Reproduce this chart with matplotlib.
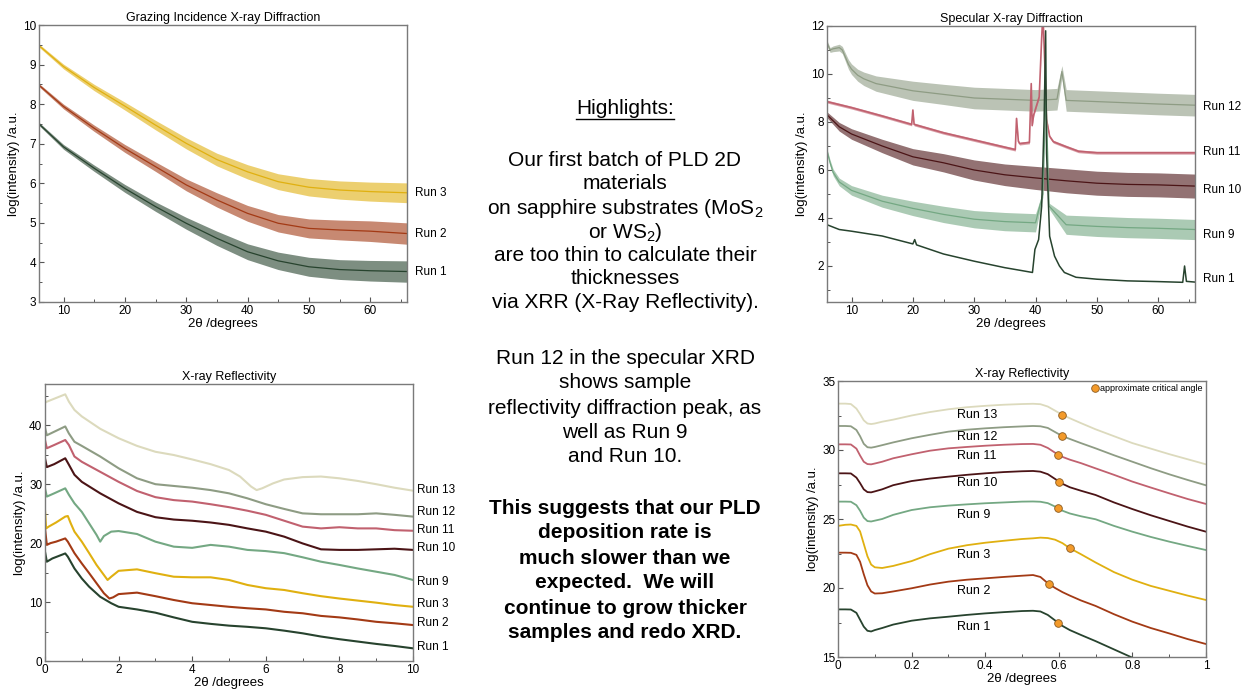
import matplotlib
matplotlib.use('Agg')
import matplotlib.pyplot as plt
from matplotlib.ticker import MultipleLocator, FuncFormatter
from matplotlib.lines import Line2D

plt.rcParams['font.family'] = ['Liberation Sans', 'DejaVu Sans']
plt.rcParams['mathtext.fontset'] = 'custom'
plt.rcParams['mathtext.rm'] = 'Liberation Sans'
plt.rcParams['mathtext.it'] = 'Liberation Sans:italic'

COLORS = {
    'Run 1':  '#27432e',
    'Run 2':  '#a33a15',
    'Run 3':  '#e0b010',
    'Run 9':  '#74a883',
    'Run 10': '#4b1416',
    'Run 11': '#c1616f',
    'Run 12': '#8e9c84',
    'Run 13': '#dcdabd',
}
DOT_COLOR = '#f39a2a'

# ── Grazing incidence XRD (smoothed trace + noise half-width) ────────────────
gi_x = [6, 10, 15, 20, 25, 30, 35, 40, 45, 50, 55, 60, 66]
gi_run3 = [9.48, 8.95, 8.42, 7.95, 7.47, 7.01, 6.60, 6.29, 6.04, 5.90, 5.83, 5.79, 5.76]
gi_run2 = [8.48, 7.94, 7.39, 6.88, 6.42, 5.96, 5.58, 5.24, 4.99, 4.86, 4.82, 4.79, 4.73]
gi_run1 = [7.50, 6.92, 6.38, 5.87, 5.41, 4.99, 4.61, 4.27, 4.04, 3.89, 3.82, 3.79, 3.77]
gi_noise3 = [0.04, 0.06, 0.08, 0.10, 0.12, 0.14, 0.16, 0.18, 0.20, 0.22, 0.23, 0.24, 0.25]
gi_noise2 = [0.04, 0.06, 0.08, 0.10, 0.12, 0.15, 0.18, 0.20, 0.22, 0.24, 0.25, 0.26, 0.27]
gi_noise1 = [0.04, 0.06, 0.08, 0.10, 0.12, 0.15, 0.18, 0.20, 0.22, 0.24, 0.25, 0.26, 0.27]

# ── Specular XRD ─────────────────────────────────────────────────────────────
sp12_x = [6, 6.5, 7, 8, 8.5, 9, 9.5, 10, 11, 12, 14, 17, 20, 25, 30, 35, 40,
          43.5, 44.3, 45, 50, 55, 60, 66]
sp12_y = [11.3, 11.0, 11.05, 11.1, 11.0, 10.7, 10.4, 10.2, 9.95, 9.8, 9.6, 9.45,
          9.3, 9.15, 9.0, 8.95, 8.9, 8.95, 10.1, 8.9, 8.85, 8.8, 8.75, 8.7]
sp12_noise = [0.10, 0.10, 0.12, 0.14, 0.15, 0.17, 0.20, 0.22, 0.25, 0.28, 0.32,
              0.36, 0.40, 0.42, 0.45, 0.45, 0.45, 0.45, 0.25, 0.45, 0.45, 0.45,
              0.45, 0.45]

sp11_x = [6, 10, 15, 19.8, 20.0, 20.2, 25, 30, 35, 36.7, 36.9, 37.2, 37.4, 39.0,
          39.3, 39.45, 39.7, 40.6, 41.0, 41.2, 41.5, 41.8, 42.3, 42.9, 45, 47,
          50, 55, 60, 66]
sp11_y = [8.85, 8.6, 8.25, 7.9, 8.5, 7.9, 7.55, 7.25, 6.95, 6.85, 8.15, 7.2, 7.1,
          7.15, 9.6, 7.85, 8.3, 9.05, 11.5, 12.5, 10.5, 8.1, 7.4, 7.18, 6.97, 6.78,
          6.72, 6.72, 6.72, 6.72]
sp11_noise = [0.06] * 30

sp10_x = [6, 8, 10, 15, 20, 25, 30, 35, 40, 45, 50, 55, 60, 66]
sp10_y = [8.3, 7.8, 7.5, 7.0, 6.55, 6.3, 6.0, 5.8, 5.67, 5.55, 5.45, 5.4, 5.38, 5.33]
sp10_noise = [0.12, 0.18, 0.22, 0.28, 0.34, 0.38, 0.42, 0.45, 0.48, 0.50, 0.50,
              0.50, 0.50, 0.50]

sp9_x = [6, 6.5, 7, 8, 10, 15, 20, 25, 30, 35, 40, 41.2, 41.7, 42.2, 45, 50, 55,
         60, 66]
sp9_y = [6.8, 6.3, 5.9, 5.5, 5.15, 4.7, 4.4, 4.15, 3.95, 3.85, 3.8, 5.0, 9.2, 4.5,
         3.72, 3.65, 3.6, 3.57, 3.52]
sp9_noise = [0.08, 0.12, 0.14, 0.16, 0.20, 0.25, 0.30, 0.34, 0.36, 0.38, 0.38,
             0.12, 0.05, 0.12, 0.40, 0.42, 0.42, 0.42, 0.42]

sp1_x = [6, 8, 10, 15, 20, 20.3, 20.6, 25, 30, 35, 37.5, 39.5, 39.9, 40.5, 41.0,
         41.4, 41.65, 41.8, 42.3, 43.1, 43.9, 44.7, 46.6, 50, 55, 60, 64, 64.3,
         64.6, 66]
sp1_y = [3.72, 3.52, 3.45, 3.25, 2.92, 3.1, 2.88, 2.5, 2.2, 1.93, 1.82, 1.73,
         2.69, 3.1, 4.49, 8.09, 11.8, 6.7, 3.24, 2.41, 2.0, 1.73, 1.53, 1.45,
         1.38, 1.35, 1.32, 2.0, 1.36, 1.33]

# ── X-ray reflectivity, wide range ───────────────────────────────────────────
xr13_x = [0, 0.05, 0.55, 0.65, 0.8, 1, 1.5, 2, 2.5, 3, 3.5, 4, 4.5, 5, 5.3, 5.6,
          5.75, 5.9, 6.2, 6.5, 7, 7.5, 8, 8.5, 9, 9.5, 10]
xr13_y = [43.8, 44.0, 45.25, 44.0, 42.6, 41.5, 39.4, 37.8, 36.5, 35.5, 34.95,
          34.2, 33.4, 32.4, 31.3, 29.6, 29.0, 29.3, 30.15, 30.8, 31.2, 31.3, 31.0,
          30.55, 30.0, 29.4, 28.9]

xr_common_x = [0, 0.05, 0.25, 0.55, 0.65, 0.8, 1, 1.5, 2, 2.5, 3, 3.5, 4, 4.5,
               5, 5.5, 6, 6.5, 7, 7.5, 8, 8.5, 9, 9.5, 10]
xr12_y = [39.6, 38.3, 38.9, 39.8, 38.6, 37.2, 36.5, 34.7, 32.7, 31.0, 30.0, 29.7,
          29.4, 29.0, 28.45, 27.6, 26.6, 25.8, 25.05, 24.9, 24.9, 24.9, 25.05,
          24.8, 24.5]
xr11_y = [37.5, 36.1, 36.65, 37.5, 36.65, 34.7, 33.8, 32.1, 30.4, 28.85, 27.8,
          27.3, 27.05, 26.6, 26.1, 25.5, 24.8, 23.8, 22.8, 22.5, 22.7, 22.5, 22.5,
          22.2, 22.1]
xr10_y = [34.4, 32.9, 33.4, 34.4, 33.3, 31.6, 30.4, 28.45, 26.75, 25.3, 24.4,
          24.0, 23.8, 23.5, 23.1, 22.5, 21.95, 21.1, 19.95, 18.95, 18.85, 18.85,
          18.95, 19.05, 18.85]

xr9_x = [0, 0.05, 0.25, 0.55, 0.65, 0.8, 1, 1.2, 1.4, 1.5, 1.6, 1.8, 2, 2.5, 3,
         3.5, 4, 4.5, 5, 5.5, 6, 6.5, 7, 7.5, 8, 8.5, 9, 9.5, 10]
xr9_y = [29.3, 27.9, 28.45, 29.3, 28.2, 26.75, 25.3, 23.35, 21.4, 20.25, 21.2,
         21.95, 22.05, 21.55, 20.25, 19.4, 19.2, 19.7, 19.4, 18.85, 18.65, 18.3,
         17.6, 16.85, 16.3, 15.7, 15.15, 14.6, 13.75]

xr3_x = [0, 0.03, 0.1, 0.3, 0.55, 0.62, 0.7, 0.8, 1, 1.2, 1.4, 1.6, 1.7, 1.8, 2,
         2.5, 3, 3.5, 4, 4.5, 5, 5.5, 6, 6.5, 7, 7.5, 8, 8.5, 9, 9.5, 10]
xr3_y = [25.6, 22.5, 22.8, 23.5, 24.5, 24.6, 23.35, 21.95, 20.25, 18.3, 16.3,
         14.6, 13.75, 14.3, 15.3, 15.55, 14.9, 14.3, 14.2, 14.2, 13.75, 12.9,
         12.35, 12.05, 11.5, 11.0, 10.6, 10.25, 9.9, 9.5, 9.2]

xr2_x = [0, 0.05, 0.15, 0.3, 0.55, 0.62, 0.8, 1, 1.2, 1.4, 1.6, 1.75, 1.85, 2,
         2.5, 3, 3.5, 4, 4.5, 5, 5.5, 6, 6.5, 7, 7.5, 8, 8.5, 9, 9.5, 10]
xr2_y = [22.5, 19.7, 20.0, 20.25, 20.8, 20.25, 18.3, 16.55, 14.9, 13.2, 11.5,
         10.6, 10.8, 11.35, 11.6, 11.0, 10.35, 9.8, 9.5, 9.2, 8.95, 8.75, 8.35,
         8.1, 7.65, 7.4, 7.05, 6.65, 6.4, 6.1]

xr1_x = [0, 0.05, 0.2, 0.55, 0.62, 0.8, 1, 1.2, 1.5, 1.8, 2, 2.5, 3, 3.5, 4, 4.5,
         5, 5.5, 6, 6.5, 7, 7.5, 8, 8.5, 9, 9.5, 10]
xr1_y = [18.55, 16.85, 17.4, 18.25, 17.7, 15.7, 14.0, 12.6, 10.9, 9.8, 9.2, 8.75,
         8.2, 7.4, 6.65, 6.3, 6.0, 5.8, 5.55, 5.15, 4.7, 4.15, 3.7, 3.3, 2.9,
         2.55, 2.15]

# ── X-ray reflectivity, low angle with critical-angle markers ────────────────
lo_x = [0, 0.02, 0.035, 0.05, 0.06, 0.07, 0.08, 0.09, 0.1, 0.12, 0.15, 0.2, 0.25,
        0.3, 0.35, 0.4, 0.45, 0.5, 0.53, 0.55, 0.57, 0.59, 0.61, 0.63, 0.66, 0.7,
        0.75, 0.8, 0.85, 0.9, 0.95, 1.0]
lo_run13 = [33.36, 33.36, 33.33, 33.0, 32.6, 32.15, 31.92, 31.88, 31.92, 32.05,
            32.2, 32.5, 32.75, 32.95, 33.1, 33.2, 33.28, 33.33, 33.35, 33.32,
            33.15, 32.85, 32.54, 32.3, 31.95, 31.5, 31.0, 30.5, 30.1, 29.7, 29.33,
            28.96]
lo_run12 = [31.74, 31.74, 31.72, 31.45, 31.0, 30.45, 30.2, 30.17, 30.22, 30.35,
            30.55, 30.85, 31.1, 31.33, 31.47, 31.57, 31.65, 31.71, 31.74, 31.72,
            31.6, 31.3, 31.0, 30.8, 30.5, 30.12, 29.62, 29.15, 28.68, 28.24, 27.83,
            27.44]
lo_run11 = [30.41, 30.41, 30.4, 30.1, 29.6, 29.15, 28.98, 28.96, 29.02, 29.15,
            29.4, 29.69, 29.95, 30.12, 30.22, 30.31, 30.38, 30.43, 30.44, 30.38,
            30.15, 29.8, 29.5, 29.3, 29.05, 28.67, 28.2, 27.71, 27.28, 26.86,
            26.45, 26.09]
lo_run10 = [28.31, 28.31, 28.3, 28.0, 27.6, 27.15, 26.95, 26.93, 27.0, 27.15,
            27.45, 27.75, 27.93, 28.07, 28.2, 28.31, 28.4, 28.46, 28.48, 28.43,
            28.25, 27.9, 27.55, 27.3, 27.05, 26.74, 26.2, 25.72, 25.27, 24.86,
            24.45, 24.08]
lo_run9 = [26.26, 26.26, 26.25, 26.0, 25.6, 25.1, 24.85, 24.82, 24.88, 25.0,
           25.3, 25.65, 25.85, 25.97, 26.06, 26.14, 26.2, 26.26, 26.27, 26.25,
           26.15, 25.9, 25.6, 25.4, 25.2, 24.98, 24.5, 24.08, 23.7, 23.36, 23.05,
           22.75]
lo_run3 = [24.5, 24.58, 24.6, 24.5, 24.1, 23.2, 22.3, 21.7, 21.5, 21.45, 21.6,
           21.95, 22.45, 22.85, 23.1, 23.28, 23.42, 23.55, 23.6, 23.65, 23.62,
           23.5, 23.25, 22.88, 22.45, 21.85, 21.15, 20.6, 20.15, 19.8, 19.45,
           19.13]
lo_run2 = [22.56, 22.56, 22.55, 22.4, 21.9, 21.0, 20.2, 19.75, 19.6, 19.62,
           19.75, 19.98, 20.25, 20.46, 20.6, 20.7, 20.8, 20.89, 20.94, 20.8,
           20.35, 20.0, 19.7, 19.45, 19.1, 18.7, 18.1, 17.56, 17.1, 16.71, 16.3,
           15.94]
lo_run1 = [18.45, 18.45, 18.44, 18.2, 17.7, 17.2, 16.9, 16.85, 16.95, 17.1, 17.35,
           17.63, 17.8, 17.92, 18.05, 18.16, 18.25, 18.33, 18.35, 18.3, 18.05,
           17.65, 17.25, 16.95, 16.6, 16.15, 15.55, 14.95, 14.4, 13.9, 13.5, 13.1]

crit_runs = ['Run 13', 'Run 12', 'Run 11', 'Run 10', 'Run 9', 'Run 3', 'Run 2', 'Run 1']
crit_x = [0.609, 0.609, 0.597, 0.601, 0.597, 0.630, 0.573, 0.597]
crit_y = [32.54, 31.00, 29.64, 27.68, 25.77, 22.88, 20.27, 17.46]

# label heights (data units) at the right-hand edge / inside the last panel
sp_label_y = {'Run 12': 8.63, 'Run 11': 6.75, 'Run 10': 5.17, 'Run 9': 3.29, 'Run 1': 1.46}
xr_label_y = {'Run 13': 29.0, 'Run 12': 25.3, 'Run 11': 22.2, 'Run 10': 19.2,
              'Run 9': 13.4, 'Run 3': 9.7, 'Run 2': 6.45, 'Run 1': 2.4}
lo_label_y = [32.54, 30.96, 29.59, 27.59, 25.29, 22.39, 19.81, 17.2]

HIGHLIGHTS = [
    'Our first batch of PLD 2D',
    'materials',
    'on sapphire substrates (MoS$_2$',
    'or WS$_2$)',
    'are too thin to calculate their',
    'thicknesses',
    'via XRR (X-Ray Reflectivity).',
]
RUN12_NOTE = [
    'Run 12 in the specular XRD',
    'shows sample',
    'reflectivity diffraction peak, as',
    'well as Run 9',
    'and Run 10.',
]
CONCLUSION = [
    'This suggests that our PLD',
    'deposition rate is',
    'much slower than we',
    'expected.  We will',
    'continue to grow thicker',
    'samples and redo XRD.',
]

W, H = 1245, 698
fig = plt.figure(figsize=(W / 100, H / 100), dpi=100)


def px_rect(left, top, right, bottom):
    return [left / W, 1 - bottom / H, (right - left) / W, (bottom - top) / H]


def style(ax, title, xlim, ylim, xmaj, xmin, ymaj, ymin):
    ax.set_xlim(*xlim)
    ax.set_ylim(*ylim)
    ax.xaxis.set_major_locator(MultipleLocator(xmaj))
    ax.xaxis.set_minor_locator(MultipleLocator(xmin))
    ax.yaxis.set_major_locator(MultipleLocator(ymaj))
    ax.yaxis.set_minor_locator(MultipleLocator(ymin))
    fmt = FuncFormatter(lambda v, _: f'{v:g}')
    ax.xaxis.set_major_formatter(fmt)
    ax.yaxis.set_major_formatter(fmt)
    ax.tick_params(which='both', direction='in', top=False, right=False,
                   color='#555555', labelsize=8.5, pad=2)
    ax.tick_params(which='major', length=3.5, width=0.8)
    ax.tick_params(which='minor', length=2, width=0.7)
    for sp in ax.spines.values():
        sp.set_color('#7a7a7a')
        sp.set_linewidth(1.0)
    ax.set_title(title, fontsize=9, pad=3)
    ax.set_xlabel('2θ /degrees', fontsize=9.5, labelpad=1)
    ax.set_ylabel('log(intensity) /a.u.', fontsize=9.5, labelpad=2)


def noisy(ax, x, y, w, color, lw=0.9):
    lo = [a - b for a, b in zip(y, w)]
    hi = [a + b for a, b in zip(y, w)]
    ax.fill_between(x, lo, hi, color=color, alpha=0.6, lw=0)
    ax.plot(x, y, color=color, lw=lw)


def right_label(ax, text, y, dx=1.022):
    ax.text(dx, y, text, transform=ax.get_yaxis_transform(), fontsize=8.5,
            va='center', ha='left', clip_on=False)


# ── Grazing Incidence X-ray Diffraction ──────────────────────────────────────
ax1 = fig.add_axes(px_rect(39, 25, 407, 302))
for name, y, w in [('Run 3', gi_run3, gi_noise3), ('Run 2', gi_run2, gi_noise2),
                   ('Run 1', gi_run1, gi_noise1)]:
    noisy(ax1, gi_x, y, w, COLORS[name])
    right_label(ax1, name, y[-1])
style(ax1, 'Grazing Incidence X-ray Diffraction', (6, 66), (3, 10), 10, 5, 1, 0.5)

# ── Specular X-ray Diffraction ───────────────────────────────────────────────
ax2 = fig.add_axes(px_rect(827, 26, 1195, 302))
noisy(ax2, sp12_x, sp12_y, sp12_noise, COLORS['Run 12'])
noisy(ax2, sp11_x, sp11_y, sp11_noise, COLORS['Run 11'], lw=1.2)
noisy(ax2, sp10_x, sp10_y, sp10_noise, COLORS['Run 10'])
noisy(ax2, sp9_x, sp9_y, sp9_noise, COLORS['Run 9'])
ax2.plot(sp1_x, sp1_y, color=COLORS['Run 1'], lw=1.1)
for name, y in sp_label_y.items():
    right_label(ax2, name, y)
style(ax2, 'Specular X-ray Diffraction', (6, 66), (0.5, 12), 10, 5, 2, 1)

# ── X-ray Reflectivity (0–10°) ───────────────────────────────────────────────
ax3 = fig.add_axes(px_rect(45, 384, 413, 661))
xr_series = [
    ('Run 13', xr13_x, xr13_y), ('Run 12', xr_common_x, xr12_y),
    ('Run 11', xr_common_x, xr11_y), ('Run 10', xr_common_x, xr10_y),
    ('Run 9', xr9_x, xr9_y), ('Run 3', xr3_x, xr3_y),
    ('Run 2', xr2_x, xr2_y), ('Run 1', xr1_x, xr1_y),
]
for name, x, y in xr_series:
    ax3.plot(x, y, color=COLORS[name], lw=1.5)
    right_label(ax3, name, xr_label_y[name], dx=1.011)
style(ax3, 'X-ray Reflectivity', (0, 10), (0, 47), 2, 1, 10, 5)

# ── X-ray Reflectivity (0–1°) ────────────────────────────────────────────────
ax4 = fig.add_axes(px_rect(838, 381, 1206, 657))
lo_series = [lo_run13, lo_run12, lo_run11, lo_run10, lo_run9, lo_run3, lo_run2, lo_run1]
for name, y, ly in zip(crit_runs, lo_series, lo_label_y):
    ax4.plot(lo_x, y, color=COLORS[name], lw=1.3)
    ax4.text(0.323, ly, name, fontsize=9, va='center', ha='left')
ax4.plot(crit_x, crit_y, 'o', ms=5.5, mfc=DOT_COLOR, mec='#8a5a20', mew=0.6,
         ls='none', label='approximate critical angle', zorder=5)
ax4.legend(loc='upper right', bbox_to_anchor=(1.0, 1.0), frameon=False,
           fontsize=6.5, handlelength=0.6, handletextpad=0.3, borderaxespad=0.15,
           borderpad=0.2)
style(ax4, 'X-ray Reflectivity', (0, 1), (15, 35), 0.2, 0.1, 5, 2.5)

# ── Highlights text column ───────────────────────────────────────────────────
cx = 625 / W
head = fig.text(cx, 1 - 108 / H, 'Highlights:', fontsize=15, ha='center', va='center')
for line, py in zip(HIGHLIGHTS, [160, 184, 208, 232, 255, 279, 302]):
    fig.text(cx, 1 - py / H, line, fontsize=15, ha='center', va='center')
for line, py in zip(RUN12_NOTE, [358, 383, 408, 433, 457]):
    fig.text(cx, 1 - py / H, line, fontsize=15, ha='center', va='center')
for line, py in zip(CONCLUSION, [508, 533, 558, 583, 608, 632]):
    fig.text(cx, 1 - py / H, line, fontsize=15, ha='center', va='center',
             fontweight='bold')

fig.canvas.draw()
bb = head.get_window_extent().transformed(fig.transFigure.inverted())
fig.add_artist(Line2D([bb.x0, bb.x1], [1 - 119 / H] * 2, color='black', lw=1.0))

fig.savefig('out.png', dpi=100)
